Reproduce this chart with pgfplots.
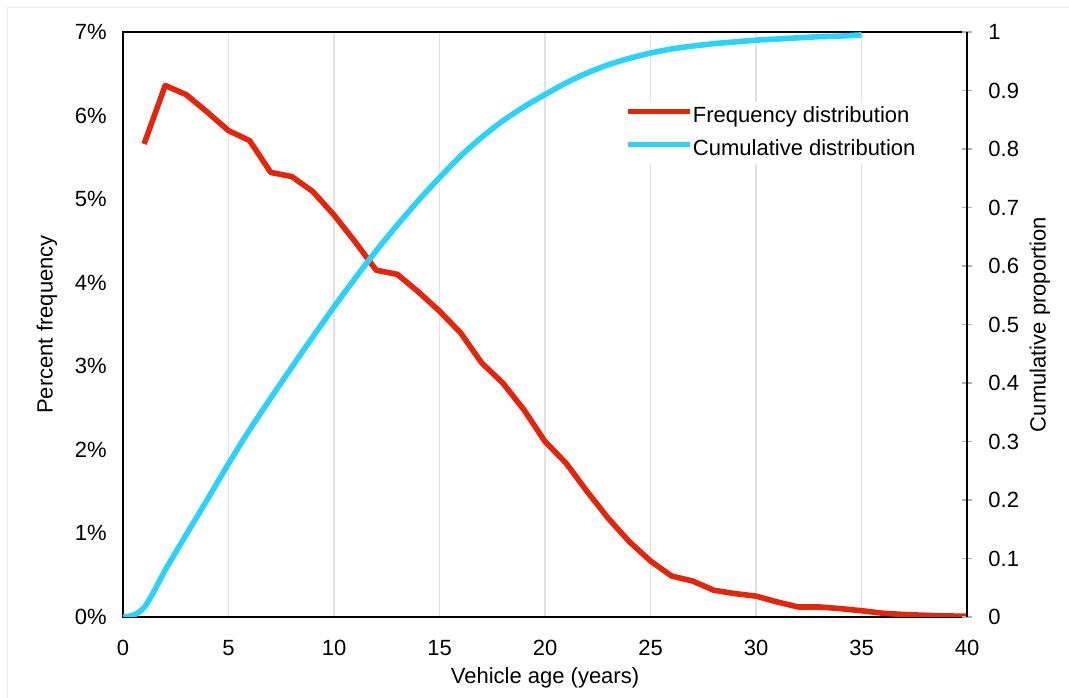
\documentclass[border=0pt]{standalone}
\usepackage{fontspec}
\setmainfont{Liberation Sans}
\usepackage{pgfplots}
\pgfplotsset{compat=1.18}
\definecolor{redl}{RGB}{226,38,14}
\definecolor{bluel}{RGB}{44,210,250}
\definecolor{gridc}{RGB}{225,225,225}
\begin{document}
\fontsize{11pt}{13pt}\selectfont
\begin{tikzpicture}
\pgfplotsset{
  /pgf/number format/assume math mode=true,
  common/.style={
    scale only axis, width=422pt, height=292.5pt,
    xmin=0, xmax=40,
  }
}
\begin{axis}[common, name=ax,
  ymin=0, ymax=7,
  axis line style={black, line width=1pt},
  xtick={0,5,10,15,20,25,30,35,40},
  xticklabels={0,5,10,15,20,25,30,35,40},
  ytick={0,1,2,3,4,5,6,7},
  yticklabels={0\%,1\%,2\%,3\%,4\%,5\%,6\%,7\%},
  major tick length=0pt,
  xmajorgrids, grid style={gridc, line width=0.6pt},
  xticklabel style={inner sep=0pt, anchor=north, yshift=-11.5pt},
  yticklabel style={inner sep=0pt, anchor=east, xshift=-8pt},
  xlabel={Vehicle age (years)}, ylabel={Percent frequency},
  xlabel style={at={(rel axis cs:0.5,0)}, anchor=center, yshift=-30.5pt},
  ylabel style={at={(rel axis cs:0,0.5)}, anchor=center, yshift=38pt},
]
\addplot[redl, line width=2.8pt, line join=round] coordinates {
(1,5.66) (2,6.36) (3,6.25) (4,6.04) (5,5.82) (6,5.70) (7,5.32) (8,5.27)
(9,5.09) (10,4.81) (11,4.49) (12,4.15) (13,4.10) (14,3.89) (15,3.66)
(16,3.40) (17,3.04) (18,2.80) (19,2.48) (20,2.10) (21,1.84) (22,1.50)
(23,1.18) (24,0.90) (25,0.67) (26,0.49) (27,0.43) (28,0.32) (29,0.28)
(30,0.25) (31,0.18) (32,0.12) (33,0.12) (34,0.10) (35,0.075) (36,0.045)
(37,0.03) (38,0.02) (39,0.012) (40,0.01)
};
\end{axis}
\begin{axis}[common,
  ymin=0, ymax=1,
  axis x line=none, axis y line*=right,
  axis line style={black, line width=1pt},
  ytick={0,0.1,0.2,0.3,0.4,0.5,0.6,0.7,0.8,0.9,1},
  yticklabels={0,0.1,0.2,0.3,0.4,0.5,0.6,0.7,0.8,0.9,1},
  tick align=center, major tick length=5pt,
  ytick style={color=gray!60, line width=0.6pt},
  yticklabel style={inner sep=0pt, anchor=west, xshift=8pt},
  ylabel={Cumulative proportion},
  ylabel style={at={(rel axis cs:1,0.5)}, anchor=center, yshift=-36.5pt},
  legend style={draw=none, fill=white, inner xsep=2pt, inner ysep=2pt,
    at={(0.590,0.8806)}, anchor=north west, row sep=6pt, column sep=0pt,
    nodes={inner sep=0pt, text height=8pt, text depth=2.5pt},
    font=\fontsize{11pt}{13pt}\selectfont},
  legend cell align=left,
  legend image code/.code={\draw[#1] (0pt,2.6pt) -- (31pt,2.6pt);},
]
\addlegendimage{redl, line width=2.8pt}
\addlegendentry{Frequency distribution}
\addplot[bluel, line width=2.8pt, smooth, tension=0.4] coordinates {
(0,0) (0.5,0.003) (1,0.016) (1.5,0.046) (2,0.08) (3,0.141) (4,0.201)
(5,0.262) (6,0.32) (7,0.374) (8,0.427) (9,0.479) (10,0.530) (11,0.579)
(12,0.626) (13,0.670) (14,0.712) (15,0.751) (16,0.788) (17,0.820)
(18,0.848) (19,0.872) (20,0.893) (21,0.913) (22,0.930) (23,0.944)
(24,0.955) (25,0.964) (26,0.971) (27,0.976) (28,0.980) (29,0.983)
(30,0.986) (31,0.988) (32,0.990) (33,0.992) (34,0.993) (35,0.995)
};
\addlegendentry{Cumulative distribution}
\end{axis}
\draw[black!8, line width=0.5pt] ([shift={(-57.5pt,-40.5pt)}]ax.south west) |- ([shift={(51pt,12pt)}]ax.north east);
\pgfresetboundingbox
\path ([shift={(-61.5pt,-40.5pt)}]ax.south west) rectangle ([shift={(51pt,16pt)}]ax.north east);
\end{tikzpicture}
\end{document}
